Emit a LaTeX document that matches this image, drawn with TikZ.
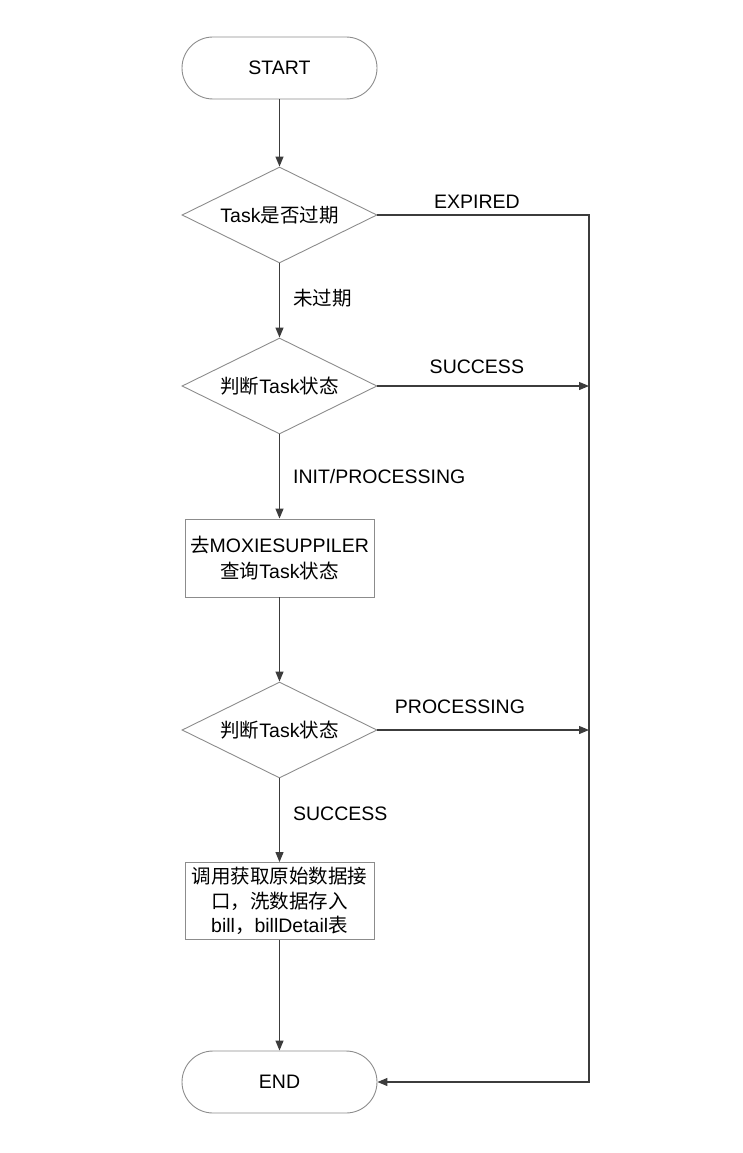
\documentclass[tikz,border=0pt]{standalone}
\usepackage{fontspec}
\setmainfont{Liberation Sans}
\newfontfamily\cjk{Noto Sans CJK SC}
\usetikzlibrary{shapes.geometric,arrows.meta,positioning}
\definecolor{boxgray}{RGB}{140,140,140}
\definecolor{linegray}{RGB}{60,60,60}
\newcommand{\zh}[1]{{\cjk #1}}

\tikzset{
  terminal/.style={draw=boxgray, line width=0.9pt, rounded corners=31pt, minimum width=195pt, minimum height=62pt, inner sep=0pt},
  decision/.style={draw=boxgray, line width=0.9pt, diamond, aspect=2, minimum width=195pt, minimum height=96pt, inner sep=0pt},
  process/.style={draw=boxgray, line width=0.9pt, minimum width=189pt, minimum height=78pt, align=center, inner sep=2pt},
  flow/.style={draw=linegray, line width=1.2pt, -{Triangle[length=10pt,width=8pt]}},
  lbl/.style={inner sep=0pt}
}

\begin{document}
\begin{tikzpicture}[x=1pt, y=-1pt, font=\fontsize{19.5}{24.5}\selectfont]
    \useasboundingbox (0,0) rectangle (743,1153);

    % shapes
    \node[terminal] (start) at (279.5,68) {START};
    \node[decision] (expired) at (279.5,215) {Task\zh{是否过期}};
    \node[decision] (state) at (279.5,386) {\zh{判断}Task\zh{状态}};
    \node[process] (query) at (279.5,558) {\zh{去}MOXIESUPPILER\\[1pt]\zh{查询}Task\zh{状态}};
    \node[decision] (result) at (279.5,730) {\zh{判断}Task\zh{状态}};
    \node[process, minimum height=77pt] (wash) at (279.5,901) {\zh{调用获取原始数据接}\\\zh{口，洗数据存入}\\bill\zh{，}billDetail\zh{表}};
    \node[terminal] (end) at (279.5,1082) {END};

    % right side
    \coordinate (rtop) at (589,215);
    \coordinate (rbot) at (589,1082);

    % connectors
    \draw[flow] (start) -- (expired);
    \draw[flow] (expired) -- node[lbl, right=13pt, pos=0.47] {\zh{未过期}} (state);
    \draw[flow] (state) -- node[lbl, right=13pt] {INIT/PROCESSING} (query);
    \draw[flow] (query) -- (result);
    \draw[flow] (result) -- node[lbl, right=13pt, pos=0.42] {SUCCESS} (wash);
    \draw[flow] (wash) -- (end);
    \draw[flow] (expired.east) -- node[lbl, above=6pt, pos=0.47] {EXPIRED} (rtop) -- (rbot) -- (end.east);
    \draw[flow] (state.east) -- node[lbl, above=12pt, pos=0.47] {SUCCESS} (state.east -| rtop);
    \draw[flow] (result.east) -- node[lbl, above=16pt, pos=0.39] {PROCESSING} (result.east -| rtop);
\end{tikzpicture}
\end{document}
